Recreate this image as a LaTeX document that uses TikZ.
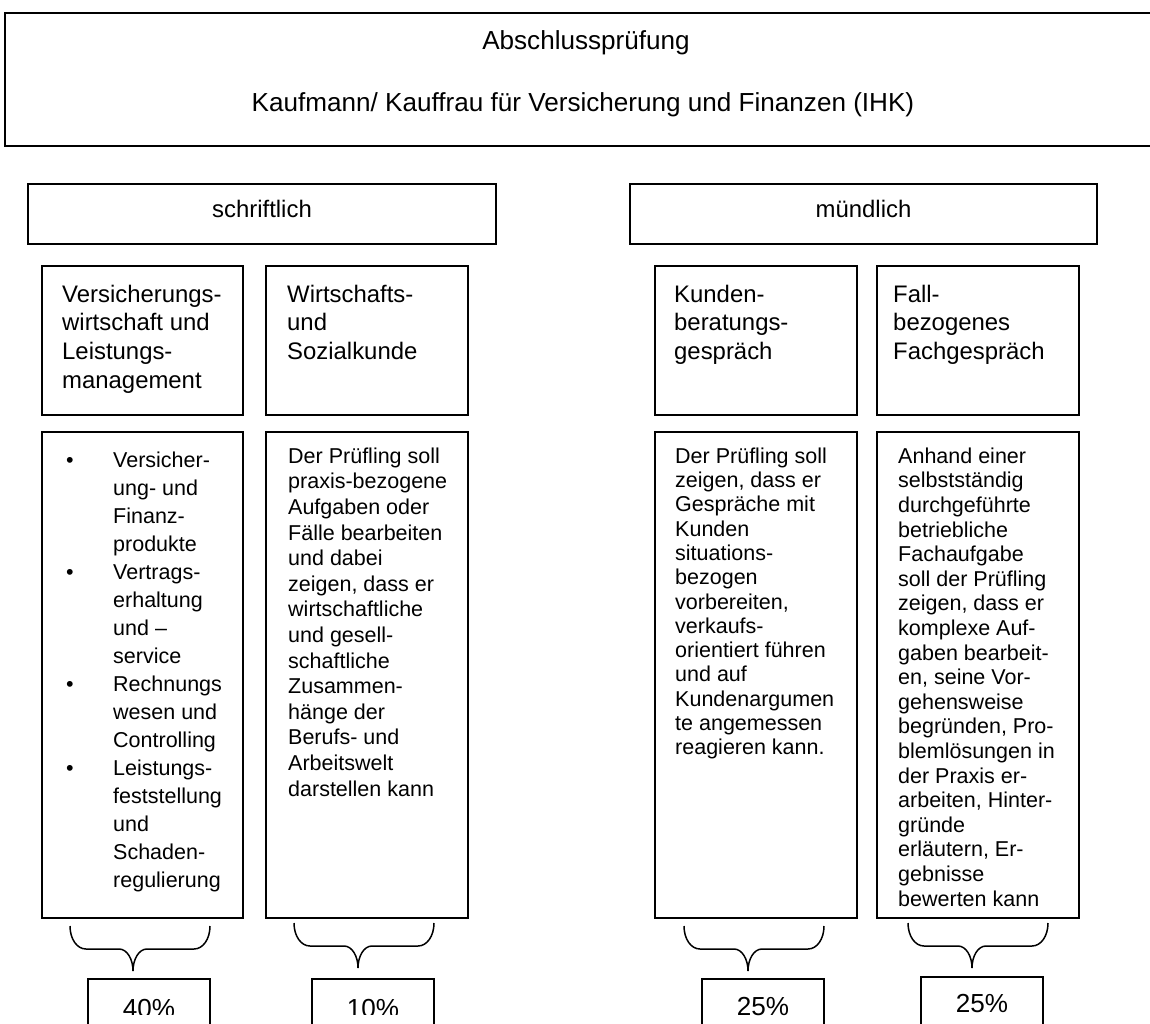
\documentclass[tikz,border=0pt]{standalone}
\usepackage{fontspec}
\setmainfont{Liberation Sans}
% curly brace opening downwards: left x, right x, tip x, top y
\newcommand{\examBrace}[4]{%
  \draw[brace] (#1,#4) .. controls (#1,#4+13) and (#1+7,#4+23) .. (#1+16,#4+23)
    -- (#3-14,#4+23) .. controls (#3-6,#4+23) and (#3,#4+33) .. (#3,#4+45)
    .. controls (#3,#4+33) and (#3+6,#4+23) .. (#3+14,#4+23)
    -- (#2-16,#4+23) .. controls (#2-7,#4+23) and (#2,#4+13) .. (#2,#4);}
\newcommand{\fl}{\rule{0pt}{20pt}}
\newcommand{\hl}{\rule{0pt}{22pt}}
\begin{document}
\begin{tikzpicture}[x=1pt,y=-1pt,
  frame/.style={draw, line width=1.6pt, anchor=north west, inner sep=0pt, outer sep=0pt},
  title/.style={font=\fontsize{26.1}{30}\selectfont, inner sep=0pt, anchor=base},
  cat/.style={font=\fontsize{23.9}{27.5}\selectfont, inner sep=0pt, anchor=base},
  head/.style={font=\fontsize{23.9}{28.7}\selectfont, inner sep=0pt, anchor=north west, align=left},
  body/.style={font=\fontsize{21.5}{#1}\selectfont, inner sep=0pt, anchor=north west, align=left},
  pct/.style={font=\fontsize{26.1}{30}\selectfont, inner sep=0pt, anchor=base},
  brace/.style={line width=1.5pt}]
\useasboundingbox (0,0) rectangle (1150,1023);
\clip (0,0) rectangle (1150,1023);
\fill[white] (0,0) rectangle (1150,1023);

% heading
\node[frame, minimum width=1160pt, minimum height=133pt] (exam) at (5,13) {};
\node[title] (t1) at (586,49) {Abschlussprüfung};
\node[title] (t2) at (583,111) {Kaufmann/ Kauffrau für Versicherung und Finanzen (IHK)};

% written / oral
\node[frame, minimum width=468pt, minimum height=60pt] (writ) at (28,184) {};
\node[cat] (writt) at (262,217) {schriftlich};
\node[frame, minimum width=467pt, minimum height=60pt] (oral) at (630,184) {};
\node[cat] (oralt) at (863.5,217) {mündlich};

% subjects
\node[frame, minimum width=201pt, minimum height=149pt] (s1) at (42,266) {};
\node[frame, minimum width=202pt, minimum height=149pt] (s2) at (266,266) {};
\node[frame, minimum width=202pt, minimum height=149pt] (s3) at (655,266) {};
\node[frame, minimum width=202pt, minimum height=149pt] (s4) at (877,266) {};
\node[head] (h1) at (62,280) {\hl Versicherungs-\\wirtschaft und\\Leistungs-\\management};
\node[head] (h2) at (287,280) {\hl Wirtschafts-\\und\\Sozialkunde};
\node[head] (h3) at (674,280) {\hl Kunden-\\beratungs-\\gespräch};
\node[head] (h4) at (893,280) {\hl Fall-\\bezogenes\\Fachgespräch};

% descriptions
\node[frame, minimum width=201pt, minimum height=486pt] (d1) at (42,432) {};
\node[frame, minimum width=202pt, minimum height=486pt] (d2) at (266,432) {};
\node[frame, minimum width=202pt, minimum height=486pt] (d3) at (655,432) {};
\node[frame, minimum width=202pt, minimum height=486pt] (d4) at (877,432) {};

\node[body=28] (b1) at (66,447) {\fl\makebox[47pt][l]{•}Versicher-\\
  \hspace*{47pt}ung- und\\
  \hspace*{47pt}Finanz-\\
  \hspace*{47pt}produkte\\
  \makebox[47pt][l]{•}Vertrags-\\
  \hspace*{47pt}erhaltung\\
  \hspace*{47pt}und –\\
  \hspace*{47pt}service\\
  \makebox[47pt][l]{•}Rechnungs\\
  \hspace*{47pt}wesen und\\
  \hspace*{47pt}Controlling\\
  \makebox[47pt][l]{•}Leistungs-\\
  \hspace*{47pt}feststellung\\
  \hspace*{47pt}und\\
  \hspace*{47pt}Schaden-\\
  \hspace*{47pt}regulierung};

\node[body=25.6] (b2) at (288,443) {\fl Der Prüfling soll\\praxis-bezogene\\Aufgaben oder\\Fälle bearbeiten\\und dabei\\zeigen, dass er\\wirtschaftliche\\und gesell-\\schaftliche\\Zusammen-\\hänge der\\Berufs- und\\Arbeitswelt\\darstellen kann};

\node[body=24.3] (b3) at (675,443) {\fl Der Prüfling soll\\zeigen, dass er\\Gespräche mit\\Kunden\\situations-\\bezogen\\vorbereiten,\\verkaufs-\\orientiert führen\\und auf\\Kundenargumen\\te angemessen\\reagieren kann.};

\node[body=24.6] (b4) at (898,443) {\fl Anhand einer\\selbstständig\\durchgeführte\\betriebliche\\Fachaufgabe\\soll der Prüfling\\zeigen, dass er\\komplexe Auf-\\gaben bearbeit-\\en, seine Vor-\\gehensweise\\begründen, Pro-\\blemlösungen in\\der Praxis er-\\arbeiten, Hinter-\\gründe\\erläutern, Er-\\gebnisse\\bewerten kann};

% braces
\examBrace{70}{210}{133}{926}
\examBrace{294}{434}{358}{923}
\examBrace{684}{824}{748}{926}
\examBrace{908}{1048}{972}{923}

% weights
\node[frame, minimum width=122pt, minimum height=70pt] (p1) at (88,979) {};
\node[frame, minimum width=122pt, minimum height=70pt] (p2) at (312,979) {};
\node[frame, minimum width=122pt, minimum height=70pt] (p3) at (702,979) {};
\node[frame, minimum width=122pt, minimum height=70pt] (p4) at (921,977) {};
\begin{scope}
  \clip (0,0) rectangle (1150,1014);
  \node[pct] (w1) at (149,1017) {40\%};
  \node[pct] (w2) at (373,1017) {10\%};
\end{scope}
\node[pct] (w3) at (763,1015) {25\%};
\node[pct] (w4) at (982,1012) {25\%};
\end{tikzpicture}
\end{document}
